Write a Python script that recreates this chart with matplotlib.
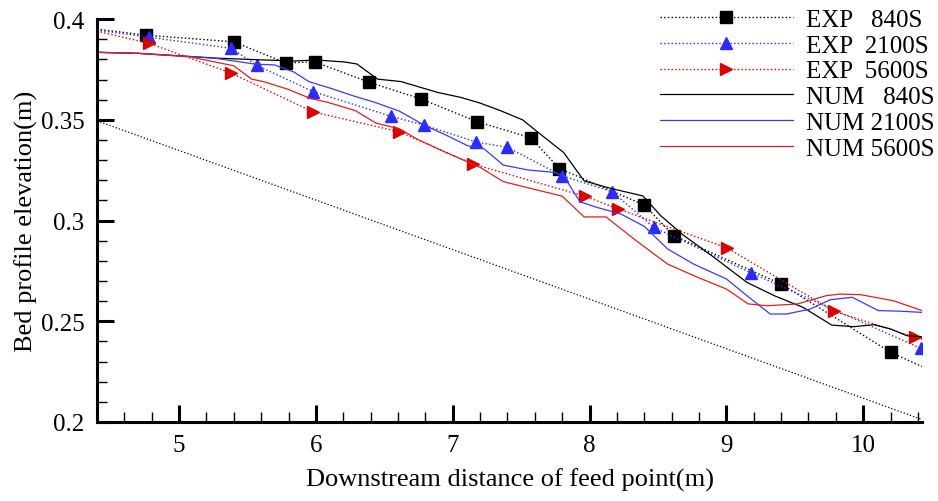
import matplotlib
matplotlib.use("Agg")
import matplotlib.pyplot as plt
from matplotlib.ticker import MultipleLocator

plt.rcParams["font.family"] = ["Liberation Serif", "DejaVu Serif"]

# measured bed profiles (the first/last points are the line ends, drawn without markers)
exp_840_x = [4.40, 4.76, 5.40, 5.78, 5.99, 6.39, 6.77, 7.18, 7.57, 7.78, 8.40, 8.615, 9.40, 10.20, 10.43]
exp_840_y = [0.395, 0.392, 0.3887, 0.3782, 0.3788, 0.3686, 0.3603, 0.349, 0.3411, 0.3258, 0.3077, 0.2925, 0.2685, 0.2346, 0.2275]

exp_2100_x = [4.40, 4.78, 5.38, 5.57, 5.98, 6.55, 6.79, 7.17, 7.40, 7.80, 8.165, 8.47, 9.18, 10.42]
exp_2100_y = [0.3945, 0.391, 0.3855, 0.377, 0.364, 0.3517, 0.3474, 0.339, 0.3363, 0.3222, 0.3143, 0.2966, 0.274, 0.2366]

exp_5600_x = [4.40, 4.78, 5.38, 5.976, 6.61, 7.15, 7.97, 8.21, 9.005, 9.79, 10.38, 10.43]
exp_5600_y = [0.394, 0.388, 0.3732, 0.354, 0.344, 0.328, 0.312, 0.3057, 0.2864, 0.2549, 0.242, 0.2412]

# simulated bed profiles
num_840_x = [4.40, 4.70, 5.06, 5.28, 5.54, 5.84, 6.00, 6.21, 6.30, 6.45, 6.62, 6.89, 7.06, 7.20, 7.35,
             7.51, 7.64, 7.81, 7.96, 8.14, 8.39, 8.52, 8.69, 8.91, 9.15, 9.35, 9.56, 9.77, 9.93,
             10.08, 10.20, 10.32, 10.43]
num_840_y = [0.3835, 0.383, 0.3815, 0.3806, 0.3799, 0.3792, 0.3797, 0.3787, 0.3777, 0.3702, 0.369,
             0.3636, 0.3611, 0.3583, 0.3545, 0.350, 0.3429, 0.3338, 0.3197, 0.3162, 0.3122, 0.3024,
             0.2925, 0.2817, 0.2693, 0.2627, 0.2569, 0.2481, 0.2473, 0.2483, 0.2462, 0.2428, 0.2423]

num_2100_x = [4.40, 4.70, 5.06, 5.27, 5.55, 5.70, 5.84, 5.95, 6.11, 6.30, 6.43, 6.61, 6.79, 6.96, 7.11,
              7.23, 7.37, 7.55, 7.74, 7.81, 7.93, 8.05, 8.23, 8.40, 8.57, 8.76, 9.00, 9.15, 9.32,
              9.44, 9.61, 9.76, 9.92, 10.11, 10.27, 10.43]
num_2100_y = [0.3835, 0.383, 0.3815, 0.3805, 0.3777, 0.3772, 0.3737, 0.3689, 0.3656, 0.3613, 0.3587,
              0.3543, 0.3474, 0.3421, 0.3371, 0.3355, 0.3275, 0.3251, 0.3239, 0.3222, 0.3093, 0.3066,
              0.3032, 0.2971, 0.2859, 0.2784, 0.271, 0.2627, 0.2536, 0.2536, 0.256, 0.2607, 0.2619,
              0.2553, 0.255, 0.2544]

num_5600_x = [4.40, 4.70, 5.075, 5.40, 5.53, 5.62, 5.79, 5.96, 6.085, 6.29, 6.44, 6.61, 6.74, 6.94,
              7.20, 7.37, 7.59, 7.80, 7.96, 8.12, 8.35, 8.57, 8.79, 9.00, 9.16, 9.30, 9.52, 9.73,
              9.83, 9.98, 10.22, 10.43]
num_5600_y = [0.3835, 0.383, 0.3813, 0.3768, 0.3702, 0.3689, 0.3653, 0.3606, 0.3587, 0.3545, 0.3483,
              0.3456, 0.3404, 0.3341, 0.3264, 0.3193, 0.3156, 0.3121, 0.3018, 0.3018, 0.2895, 0.2784,
              0.2718, 0.266, 0.2586, 0.2577, 0.2586, 0.2627, 0.2635, 0.2632, 0.2602, 0.2553]

# initial slope line
ref_x = [4.40, 10.43]
ref_y = [0.3495, 0.2012]

labels = ["EXP   840S", "EXP  2100S", "EXP  5600S", "NUM   840S", "NUM 2100S", "NUM 5600S"]

fig = plt.figure(figsize=(9.38, 5.02), dpi=100)
ax = fig.add_axes([0.1034, 0.1574, 0.8796, 0.8026])

ax.plot(exp_840_x, exp_840_y, ls=":", lw=1.0, color="black", marker="s", ms=8.5,
        markevery=list(range(1, len(exp_840_x) - 1)), label=labels[0])
ax.plot(exp_2100_x, exp_2100_y, ls=":", lw=1.0, color="#2b2bff", marker="^", ms=8.5,
        markevery=list(range(1, len(exp_2100_x))), label=labels[1])
ax.plot(exp_5600_x, exp_5600_y, ls=":", lw=1.0, color="#dd0000", marker=">", ms=8.5,
        markevery=list(range(1, len(exp_5600_x) - 1)), label=labels[2])
ax.plot(num_840_x, num_840_y, ls="-", lw=0.9, color="black", label=labels[3])
ax.plot(num_2100_x, num_2100_y, ls="-", lw=0.9, color="#3838ff", label=labels[4])
ax.plot(num_5600_x, num_5600_y, ls="-", lw=0.9, color="#e02020", label=labels[5])
ax.plot(ref_x, ref_y, ls=":", lw=0.9, color="black")

ax.set_xlim(4.40, 10.43)
ax.set_ylim(0.2, 0.4)
ax.xaxis.set_major_locator(MultipleLocator(1))
ax.xaxis.set_minor_locator(MultipleLocator(0.2))
ax.yaxis.set_major_locator(MultipleLocator(0.05))
ax.yaxis.set_minor_locator(MultipleLocator(0.01))
ax.set_yticks([0.2, 0.25, 0.3, 0.35, 0.4])
ax.set_yticklabels(["0.2", "0.25", "0.3", "0.35", "0.4"])

for side in ["top", "right"]:
    ax.spines[side].set_visible(False)
for side in ["left", "bottom"]:
    ax.spines[side].set_linewidth(2.2)

ax.tick_params(which="major", direction="in", length=12, width=2.2, labelsize=18, pad=9)
ax.tick_params(which="minor", direction="in", length=7, width=1.0)

ax.set_xlabel("Downstream distance of feed point(m)", fontsize=19, labelpad=8)
ax.set_ylabel("Bed profile elevation(m)", fontsize=19, labelpad=2)

ax.legend(loc="upper right", bbox_to_anchor=(1.01, 1.006), bbox_transform=fig.transFigure,
          frameon=False, fontsize=18, handlelength=5.3, labelspacing=0.13, handletextpad=0.55,
          borderaxespad=0.1)

fig.savefig("out.png", dpi=100)
